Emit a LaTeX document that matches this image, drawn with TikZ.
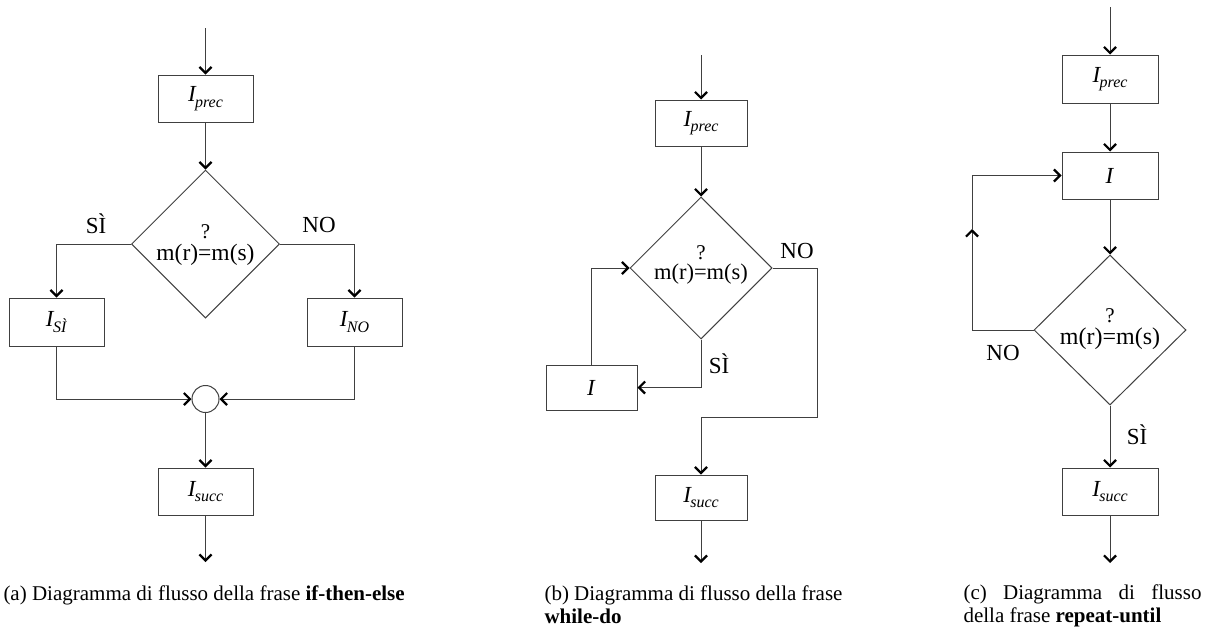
\documentclass[tikz,border=0pt]{standalone}
\usepackage{fontspec}
\setmainfont{Liberation Serif}
\usetikzlibrary{arrows.meta,shapes.geometric}

% instruction name with an italic subscript
\newcommand\Isub[1]{\textit{I}\kern-1.5pt\raisebox{-5.5pt}{\fontsize{16}{16}\selectfont\textit{#1}}}
\newcommand\Istr{\textit{I}}
% the test: a question mark set above the equals sign
\newcommand\cond[1]{{\fontsize{21}{21}\selectfont ?}\\[#1]m(r)=m(s)}

\begin{document}
\begin{tikzpicture}[x=1pt,y=-1pt,line width=1pt,
  flow/.style={draw=black!75,-{Straight Barb[length=6pt,width=12pt,line width=2.2pt,color=black]}},
  link/.style={draw=black!75},
  stepbox/.style={draw=black!75,rectangle,inner sep=0pt,minimum width=95pt,minimum height=47pt,font=\fontsize{23}{23}\selectfont},
  test/.style={draw=black!75,diamond,inner sep=0pt},
  condtext/.style={align=center,inner sep=0pt,font=\fontsize{23.5}{22}\selectfont},
  branch/.style={anchor=base,inner sep=0pt,font=\fontsize{23}{23}\selectfont},
  joint/.style={draw=black!75,circle,inner sep=0pt,minimum size=27pt},
  capline/.style={anchor=base west,inner sep=0pt,font=\fontsize{21}{23}\selectfont}
]
\useasboundingbox (0,0) rectangle (1214,633);

% ---------- (a) if-then-else ----------
\coordinate (a-in) at (205.5,28);
\node[stepbox] (a-prec) at (205.5,98.5) {\Isub{prec}};
\node[test,minimum width=148pt,minimum height=148pt] (a-test) at (205.5,244) {};
\node[condtext] (a-cond) at (205.5,245) {\cond{0pt}};
\node[stepbox,minimum height=48pt] (a-yes) at (56.5,322) {\Isub{SÌ}};
\node[stepbox,minimum height=48pt] (a-no) at (354.5,322) {\Isub{NO}};
\node[joint] (a-join) at (205.5,399) {};
\node[stepbox] (a-succ) at (205.5,491.5) {\Isub{succ}};
\coordinate (a-out) at (205.5,562);
\node[branch] (a-si) at (96,233) {SÌ};
\node[branch] (a-nolab) at (319,232) {NO};

\draw[flow] (a-in) -- (a-prec);
\draw[flow] (a-prec) -- (a-test.north);
\draw[flow] (a-test.west) -| (a-yes.north);
\draw[flow] (a-test.east) -| (a-no.north);
\draw[flow] (a-yes.south) |- (a-join.west);
\draw[flow] (a-no.south) |- (a-join.east);
\draw[flow] (a-join) -- (a-succ);
\draw[flow] (a-succ) -- (a-out);

\node[capline] (a-cap) at (3,600) {(a) Diagramma di flusso della frase \textbf{if-then-else}};

% ---------- (b) while-do ----------
\coordinate (b-in) at (701,55);
\node[stepbox,minimum width=92pt,minimum height=46pt] (b-prec) at (701,123) {\Isub{prec}};
\node[test,minimum width=142pt,minimum height=142pt] (b-test) at (701,268) {};
\node[condtext,font=\fontsize{22.5}{21}\selectfont] (b-cond) at (701,265) {\cond{-1pt}};
\node[stepbox,minimum width=91pt,minimum height=45pt] (b-body) at (591.5,387.5) {\Istr};
\coordinate (b-r1) at (817,268);
\coordinate (b-r2) at (817,417);
\coordinate (b-r3) at (701,417);
\node[stepbox,minimum width=92pt,minimum height=45pt] (b-succ) at (701,497.5) {\Isub{succ}};
\coordinate (b-out) at (701,563);
\node[branch] (b-nolab) at (797,258) {NO};
\node[branch] (b-si) at (719,373) {SÌ};

\draw[flow] (b-in) -- (b-prec);
\draw[flow] (b-prec) -- (b-test.north);
\draw[flow] (b-test.south) |- (b-body.east);
\draw[flow] (b-body.north) |- (b-test.west);
\draw[link] (b-test.east) -- (b-r1) -- (b-r2) -- (b-r3);
\draw[flow] (b-r3) -- (b-succ.north);
\draw[flow] (b-succ) -- (b-out);

\node[capline] (b-cap1) at (544,600) {(b) Diagramma di flusso della frase};
\node[capline] (b-cap2) at (544,623) {\textbf{while-do}};

% ---------- (c) repeat-until ----------
\coordinate (c-in) at (1110,7);
\node[stepbox,minimum width=96pt,minimum height=48pt] (c-prec) at (1110,79) {\Isub{prec}};
\node[stepbox,minimum width=96pt] (c-body) at (1110,175.5) {\Istr};
\node[test,minimum width=152pt,minimum height=150pt] (c-test) at (1110,330) {};
\node[condtext,font=\fontsize{24}{22}\selectfont] (c-cond) at (1110,329) {\cond{0pt}};
\coordinate (c-up) at (972,229);
\node[stepbox,minimum width=96pt] (c-succ) at (1110,491.5) {\Isub{succ}};
\coordinate (c-out) at (1110,563);
\node[branch] (c-nolab) at (1003,360) {NO};
\node[branch] (c-si) at (1137,444) {SÌ};

\draw[flow] (c-in) -- (c-prec);
\draw[flow] (c-prec) -- (c-body);
\draw[flow] (c-body) -- (c-test.north);
\draw[flow] (c-test.west) -| (c-up);
\draw[flow] (c-up) |- (c-body.west);
\draw[flow] (c-test.south) -- (c-succ.north);
\draw[flow] (c-succ) -- (c-out);

\node[capline] (c-cap1) at (963,599) {\makebox[238pt][s]{(c) Diagramma di flusso}};
\node[capline] (c-cap2) at (963,622) {della frase \textbf{repeat-until}};
\end{tikzpicture}
\end{document}
